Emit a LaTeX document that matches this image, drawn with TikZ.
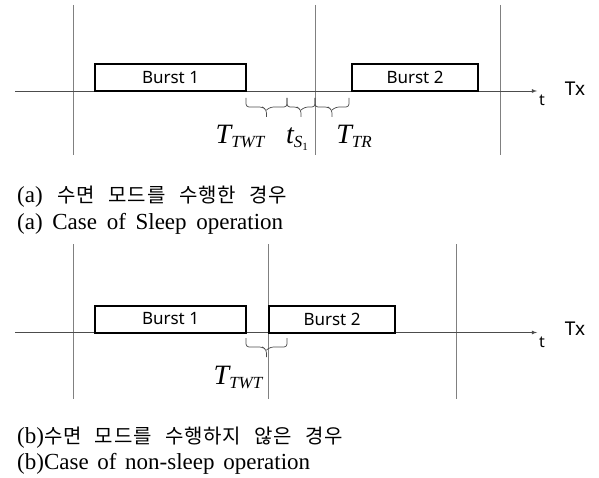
\documentclass[tikz,border=0pt]{standalone}
\usepackage{fontspec}
\setmainfont{Liberation Serif}
\setsansfont{Noto Sans}
\newfontfamily\kofont[LetterSpace=4]{Noto Sans CJK KR}
\usetikzlibrary{calc}
\usetikzlibrary{arrows}

\newcommand{\capsize}{\fontsize{23}{24}\selectfont}
\newcommand{\kosize}{\fontsize{20}{24}\selectfont}
\newcommand{\tlabel}[2]{{\fontsize{28}{28}\selectfont\itshape #1}\raisebox{-4pt}{\fontsize{17}{17}\selectfont\itshape #2}}
\newcommand{\subone}{\raisebox{-3pt}{\fontsize{11}{11}\selectfont\upshape 1}}
% square-ish brace between two named coordinates
\newcommand{\gapbrace}[2]{%
  \draw[gap] (#1) -- ++(0,9) -- ($(#1)!.5!(#2)+(-4,9)$)
    -- ($(#1)!.5!(#2)+(0,12)$) -- ($(#1)!.5!(#2)+(0,19)$)
    ($(#1)!.5!(#2)+(0,12)$) -- ($(#1)!.5!(#2)+(4,9)$)
    -- ($(#2)+(0,9)$) -- (#2);}

\begin{document}
\begin{tikzpicture}[x=1pt,y=-1pt,
  grid/.style={gray,line width=0.8pt},
  axis/.style={gray!60!black,line width=0.8pt,-latex},
  burst/.style={draw,line width=2pt,minimum height=27pt,inner sep=0pt,
    font=\sffamily\fontsize{17}{17}\selectfont},
  gap/.style={gray!60!black,line width=0.7pt,rounded corners=3pt}]
\useasboundingbox (0,0) rectangle (599,478);

% (a) sleep operation
\foreach \x in {73,315,500} {
  \draw[grid] (\x,5) -- (\x,155);
}
\coordinate (aL) at (15,91);
\coordinate (aR) at (537,91);
\draw[axis] (aL) -- (aR);
\node[burst,minimum width=151pt] (aB1) at (170.5,77.5) {Burst 1};
\node[burst,minimum width=126pt] (aB2) at (415,77.5) {Burst 2};
\coordinate (ag1) at (246,98);
\coordinate (ag2) at (287,98);
\coordinate (ag3) at (315,98);
\coordinate (ag4) at (349,98);
\gapbrace{ag1}{ag2}
\gapbrace{ag2}{ag3}
\gapbrace{ag3}{ag4}
\node[anchor=base] (aTwt) at (240,144) {\tlabel{T}{TWT}};
\node[anchor=base] (aTs) at (297,144) {\tlabel{t}{S\subone}};
\node[anchor=base] (aTtr) at (354,144) {\tlabel{T}{TR}};
\node[font=\sffamily\fontsize{16}{16}\selectfont] (at) at (542,100) {t};
\node[font=\sffamily\fontsize{19}{19}\selectfont] (aTx) at (575,89) {Tx};
\node[anchor=west,inner sep=0pt] (aKo) at (17,197)
  {\makebox[270pt][s]{\capsize(a) \kosize\kofont 수면 모드를 수행한 경우}};
\node[anchor=west,inner sep=0pt] (aEn) at (17,224)
  {\makebox[266pt][s]{\capsize(a) Case of Sleep operation}};

% (b) non-sleep operation
\foreach \x in {73,268,456} {
  \draw[grid] (\x,244) -- (\x,399);
}
\coordinate (bL) at (15,332.5);
\coordinate (bR) at (537,332.5);
\draw[axis] (bL) -- (bR);
\node[burst,minimum width=151pt] (bB1) at (170.5,319) {Burst 1};
\node[burst,minimum width=126pt] (bB2) at (332,319) {Burst 2};
\coordinate (bg1) at (246,338);
\coordinate (bg2) at (287,338);
\gapbrace{bg1}{bg2}
\node[anchor=base] (bTwt) at (238,384) {\tlabel{T}{TWT}};
\node[font=\sffamily\fontsize{16}{16}\selectfont] (bt) at (542,342) {t};
\node[font=\sffamily\fontsize{19}{19}\selectfont] (bTx) at (575,329) {Tx};
\node[anchor=west,inner sep=0pt] (bKo) at (17,438)
  {\makebox[326pt][s]{\capsize(b)\kosize\kofont 수면 모드를 수행하지 않은 경우}};
\node[anchor=west,inner sep=0pt] (bEn) at (17,464)
  {\makebox[293pt][s]{\capsize(b)Case of non-sleep operation}};
\end{tikzpicture}
\end{document}
